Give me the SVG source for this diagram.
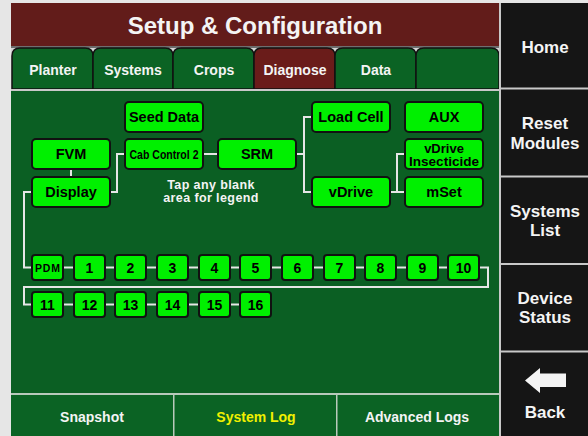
<svg xmlns="http://www.w3.org/2000/svg" width="588" height="436" viewBox="0 0 588 436">
<defs>
<style>
.t{font-family:"Liberation Sans",Arial,sans-serif;font-weight:bold;text-anchor:middle}
.w{fill:#f4f4f4}
.k{fill:#000}
.tab{fill:#0b6324;stroke:#111;stroke-width:1.5}
.box{fill:#00f000;stroke:#111;stroke-width:2}
.c{fill:none;stroke:#e6e6e6;stroke-width:2}
.sep{fill:#c8c8c8}
</style>
</defs>
<rect x="0" y="0" width="588" height="436" fill="#e6e6e6"/>
<g id="title">
<rect x="11" y="3" width="488" height="43" fill="#621c1a"/>
<rect x="11" y="46" width="488" height="2" fill="#6e6e6e"/>
<text class="t w" x="255" y="34" font-size="24">Setup &amp; Configuration</text>
</g>
<g id="tabs">
<rect x="11" y="48" width="488" height="41" fill="#d4d4d4"/>
<path class="tab" d="M12 89V56Q12 48 20 48H85Q93 48 93 56V89Z"/>
<path class="tab" d="M93 89V56Q93 48 101 48H165Q173 48 173 56V89Z"/>
<path class="tab" d="M173 89V56Q173 48 181 48H246Q254 48 254 56V89Z"/>
<path class="tab" style="fill:#6a1c1a" d="M254 89V56Q254 48 262 48H327Q335 48 335 56V89Z"/>
<path class="tab" d="M335 89V56Q335 48 343 48H408Q416 48 416 56V89Z"/>
<path class="tab" d="M416 89V56Q416 48 424 48H491Q499 48 499 56V89Z"/>
<text class="t w" x="53" y="75" font-size="14">Planter</text>
<text class="t w" x="133" y="75" font-size="14">Systems</text>
<text class="t w" x="214" y="75" font-size="14">Crops</text>
<text class="t w" x="295" y="75" font-size="14">Diagnose</text>
<text class="t w" x="376" y="75" font-size="14">Data</text>
</g>
<rect x="11" y="89" width="488" height="2" fill="#c8c8c8"/>
<rect x="11" y="91" width="488" height="302" fill="#0b5f23"/>
<text class="t w" x="211" y="189" font-size="12.5" letter-spacing="0.4">Tap any blank</text>
<text class="t w" x="211" y="202" font-size="12.5" letter-spacing="0.4">area for legend</text>
<g id="connectors">
<path class="c" d="M71 169V177"/>
<path class="c" d="M110 192H117V154H125"/>
<path class="c" d="M203 154H218"/>
<path class="c" d="M296 154H304M312 117H304V192H312"/>
<path class="c" d="M389 192H405M405 154H397V192"/>
<path class="c" d="M32 192H24V267.5H32"/>
<path class="c" d="M63 267.5H448"/>
<path class="c" d="M480 267.5H488V287H24V304.5H32"/>
<path class="c" d="M63 304.5H240"/>
</g>
<g id="n-seed"><rect class="box" x="125" y="102" width="78" height="30" rx="4"/><text class="t k" x="164" y="122" font-size="14.5">Seed Data</text></g>
<g id="n-fvm"><rect class="box" x="32" y="139" width="78" height="30" rx="4"/><text class="t k" x="71" y="159" font-size="14.5">FVM</text></g>
<g id="n-display"><rect class="box" x="32" y="177" width="78" height="30" rx="4"/><text class="t k" x="71" y="197" font-size="14.5">Display</text></g>
<g id="n-cab"><rect class="box" x="125" y="139" width="78" height="30" rx="4"/><text class="t k" x="164" y="158.5" font-size="12" textLength="69" lengthAdjust="spacingAndGlyphs">Cab Control 2</text></g>
<g id="n-srm"><rect class="box" x="218" y="139" width="78" height="30" rx="4"/><text class="t k" x="257" y="159" font-size="14.5">SRM</text></g>
<g id="n-loadcell"><rect class="box" x="312" y="102" width="78" height="30" rx="4"/><text class="t k" x="351" y="122" font-size="14.5">Load Cell</text></g>
<g id="n-aux"><rect class="box" x="405" y="102" width="78" height="30" rx="4"/><text class="t k" x="444" y="122" font-size="14.5">AUX</text></g>
<g id="n-vdins"><rect class="box" x="405" y="139" width="78" height="30" rx="4"/><text class="t k" x="444" y="152.5" font-size="13">vDrive</text><text class="t k" x="444" y="165.5" font-size="13" textLength="70" lengthAdjust="spacingAndGlyphs">Insecticide</text></g>
<g id="n-vdrive"><rect class="box" x="312" y="177" width="78" height="30" rx="4"/><text class="t k" x="351" y="197" font-size="14.5">vDrive</text></g>
<g id="n-mset"><rect class="box" x="405" y="177" width="78" height="30" rx="4"/><text class="t k" x="444" y="197" font-size="14.5">mSet</text></g>
<g id="n-pdm"><rect class="box" x="32" y="255" width="31" height="25" rx="3"/><text class="t k" x="47.5" y="271.5" font-size="10.5" textLength="25" lengthAdjust="spacing">PDM</text></g>
<g id="n-1"><rect class="box" x="74" y="255" width="31" height="25" rx="3"/><text class="t k" x="89.5" y="272.5" font-size="14">1</text></g>
<g id="n-2"><rect class="box" x="115" y="255" width="31" height="25" rx="3"/><text class="t k" x="130.5" y="272.5" font-size="14">2</text></g>
<g id="n-3"><rect class="box" x="157" y="255" width="31" height="25" rx="3"/><text class="t k" x="172.5" y="272.5" font-size="14">3</text></g>
<g id="n-4"><rect class="box" x="199" y="255" width="31" height="25" rx="3"/><text class="t k" x="214.5" y="272.5" font-size="14">4</text></g>
<g id="n-5"><rect class="box" x="240" y="255" width="31" height="25" rx="3"/><text class="t k" x="255.5" y="272.5" font-size="14">5</text></g>
<g id="n-6"><rect class="box" x="282" y="255" width="31" height="25" rx="3"/><text class="t k" x="297.5" y="272.5" font-size="14">6</text></g>
<g id="n-7"><rect class="box" x="324" y="255" width="31" height="25" rx="3"/><text class="t k" x="339.5" y="272.5" font-size="14">7</text></g>
<g id="n-8"><rect class="box" x="365" y="255" width="31" height="25" rx="3"/><text class="t k" x="380.5" y="272.5" font-size="14">8</text></g>
<g id="n-9"><rect class="box" x="407" y="255" width="31" height="25" rx="3"/><text class="t k" x="422.5" y="272.5" font-size="14">9</text></g>
<g id="n-10"><rect class="box" x="448" y="255" width="31" height="25" rx="3"/><text class="t k" x="463.5" y="272.5" font-size="14">10</text></g>
<g id="n-11"><rect class="box" x="32" y="292" width="31" height="25" rx="3"/><text class="t k" x="47.5" y="309.5" font-size="14">11</text></g>
<g id="n-12"><rect class="box" x="74" y="292" width="31" height="25" rx="3"/><text class="t k" x="89.5" y="309.5" font-size="14">12</text></g>
<g id="n-13"><rect class="box" x="115" y="292" width="31" height="25" rx="3"/><text class="t k" x="130.5" y="309.5" font-size="14">13</text></g>
<g id="n-14"><rect class="box" x="157" y="292" width="31" height="25" rx="3"/><text class="t k" x="172.5" y="309.5" font-size="14">14</text></g>
<g id="n-15"><rect class="box" x="199" y="292" width="31" height="25" rx="3"/><text class="t k" x="214.5" y="309.5" font-size="14">15</text></g>
<g id="n-16"><rect class="box" x="240" y="292" width="31" height="25" rx="3"/><text class="t k" x="255.5" y="309.5" font-size="14">16</text></g>
<g id="bottombar">
<rect x="11" y="393" width="488" height="2" fill="#b9c9bb"/>
<rect x="11" y="395" width="488" height="41" fill="#0b6324"/>
<rect x="173" y="395" width="1.5" height="41" fill="#b9c9bb"/>
<rect x="336" y="395" width="1.5" height="41" fill="#b9c9bb"/>
<text class="t w" x="92" y="422" font-size="14">Snapshot</text>
<text class="t" x="256" y="422" font-size="14" fill="#f0f000">System Log</text>
<text class="t w" x="417" y="422" font-size="14">Advanced Logs</text>
</g>
<g id="sidebar">
<rect x="499" y="3" width="2" height="433" fill="#c8c8c8"/>
<rect x="501" y="3" width="87" height="433" fill="#151515"/>
<rect class="sep" x="501" y="87.5" width="87" height="2"/>
<rect class="sep" x="501" y="175.5" width="87" height="2"/>
<rect class="sep" x="501" y="263" width="87" height="2"/>
<rect class="sep" x="501" y="350.5" width="87" height="2"/>
<text class="t w" x="545" y="53" font-size="17">Home</text>
<text class="t w" x="545" y="129" font-size="17">Reset</text>
<text class="t w" x="545" y="149" font-size="17">Modules</text>
<text class="t w" x="545" y="217" font-size="17">Systems</text>
<text class="t w" x="545" y="236" font-size="17">List</text>
<text class="t w" x="545" y="304" font-size="17">Device</text>
<text class="t w" x="545" y="323" font-size="17">Status</text>
<polygon points="525,380.5 540,368 540,373.5 566,373.5 566,387 540,387 540,393" fill="#f4f4f4"/>
<text class="t w" x="545" y="418" font-size="17">Back</text>
</g>
</svg>
